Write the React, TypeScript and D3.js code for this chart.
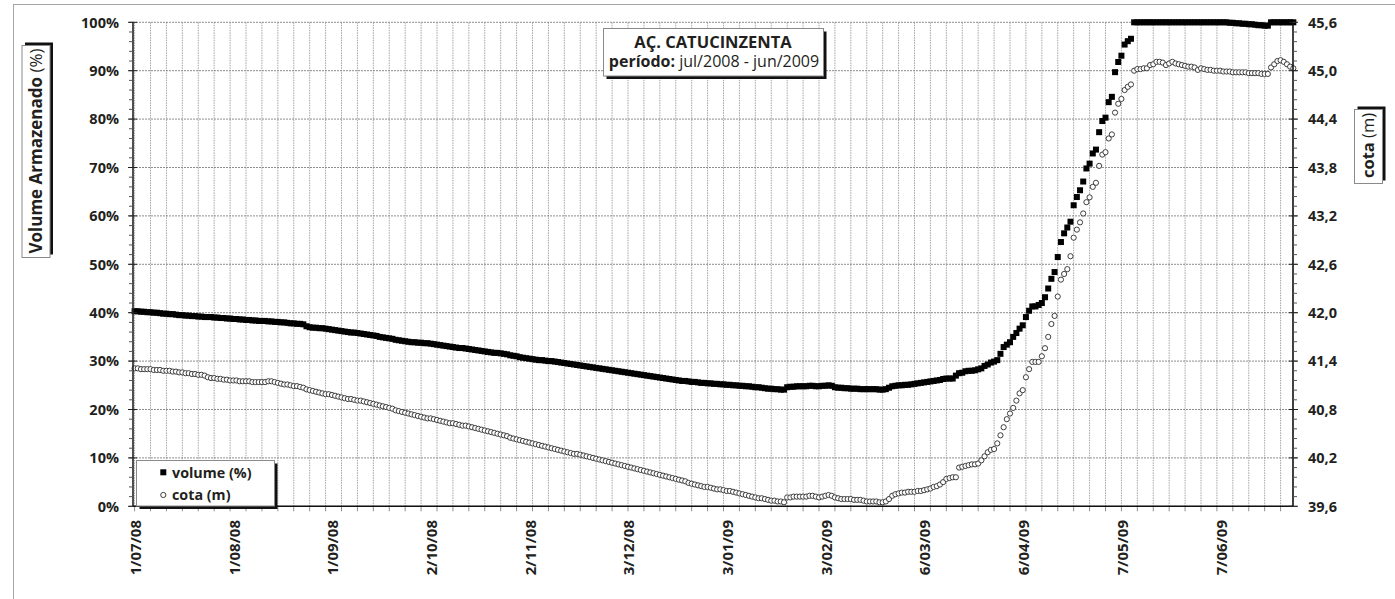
import React from 'react';
import * as d3 from 'd3';

// ---------- DATA ----------
const startLabel = '1/07/08';
const xTickLabels = ['1/07/08', '1/08/08', '1/09/08', '2/10/08', '2/11/08', '3/12/08', '3/01/09', '3/02/09', '6/03/09', '6/04/09', '7/05/09', '7/06/09'];
const leftTickValues = [0, 10, 20, 30, 40, 50, 60, 70, 80, 90, 100];
const rightTickValues = [39.6, 40.2, 40.8, 41.4, 42.0, 42.6, 43.2, 43.8, 44.4, 45.0, 45.6];
const titleLine1 = 'AÇ. CATUCINZENTA';
const titleLine2Bold = 'período:';
const titleLine2 = ' jul/2008 - jun/2009';
const leftAxisTitleBold = 'Volume Armazenado ';
const leftAxisTitleUnit = '(%)';
const rightAxisTitleBold = 'cota ';
const rightAxisTitleUnit = '(m)';
const seriesNames = ['volume (%)', 'cota (m)'];

// daily volume (%) from 1/07/08
const volumePct = [
  40.3, 40.3, 40.2, 40.2, 40.1, 40.1, 40.0, 40.0, 39.9, 39.8,
  39.8, 39.7, 39.7, 39.6, 39.5, 39.5, 39.4, 39.4, 39.3, 39.3,
  39.2, 39.2, 39.1, 39.1, 39.1, 39.0, 39.0, 38.9, 38.9, 38.8,
  38.8, 38.7, 38.7, 38.6, 38.6, 38.5, 38.5, 38.4, 38.4, 38.3,
  38.3, 38.3, 38.2, 38.2, 38.1, 38.1, 38.0, 38.0, 37.9, 37.8,
  37.8, 37.7, 37.7, 37.6, 37.2, 37.0, 36.9, 36.9, 36.8, 36.8,
  36.7, 36.6, 36.5, 36.4, 36.3, 36.2, 36.1, 36.0, 35.9, 35.9,
  35.8, 35.7, 35.6, 35.5, 35.4, 35.3, 35.2, 35.0, 34.9, 34.8,
  34.7, 34.6, 34.4, 34.3, 34.2, 34.1, 34.0, 33.9, 33.9, 33.8,
  33.8, 33.7, 33.7, 33.6, 33.5, 33.4, 33.3, 33.2, 33.1, 33.0,
  32.9, 32.8, 32.7, 32.7, 32.6, 32.5, 32.4, 32.3, 32.2, 32.1,
  32.0, 31.9, 31.8, 31.7, 31.7, 31.6, 31.5, 31.4, 31.2, 31.1,
  31.0, 30.8, 30.7, 30.6, 30.5, 30.4, 30.3, 30.2, 30.2, 30.1,
  30.0, 30.0, 29.9, 29.8, 29.7, 29.6, 29.5, 29.4, 29.3, 29.2,
  29.1, 29.0, 28.9, 28.8, 28.7, 28.6, 28.5, 28.4, 28.3, 28.2,
  28.1, 28.0, 27.9, 27.8, 27.7, 27.6, 27.5, 27.4, 27.3, 27.2,
  27.1, 27.0, 26.9, 26.8, 26.7, 26.6, 26.5, 26.4, 26.3, 26.2,
  26.1, 26.0, 25.9, 25.9, 25.8, 25.7, 25.7, 25.6, 25.5, 25.5,
  25.4, 25.4, 25.3, 25.3, 25.2, 25.2, 25.1, 25.1, 25.0, 25.0,
  24.9, 24.9, 24.8, 24.8, 24.7, 24.6, 24.6, 24.5, 24.4, 24.3,
  24.3, 24.2, 24.2, 24.1, 24.1, 24.6, 24.7, 24.7, 24.8, 24.8,
  24.8, 24.8, 24.9, 24.9, 24.8, 24.8, 24.9, 24.9, 25.0, 24.9,
  24.6, 24.5, 24.5, 24.4, 24.4, 24.3, 24.3, 24.3, 24.2, 24.2,
  24.2, 24.2, 24.2, 24.2, 24.1, 24.1, 24.2, 24.5, 24.8, 24.9,
  25.0, 25.0, 25.1, 25.1, 25.2, 25.3, 25.4, 25.5, 25.6, 25.7,
  25.8, 25.9, 26.0, 26.1, 26.3, 26.4, 26.4, 26.4, 27.0, 27.5,
  27.6, 27.9, 28.0, 28.0, 28.1, 28.3, 28.5, 29.0, 29.3, 29.7,
  29.9, 30.2, 31.5, 32.9, 33.4, 33.9, 35.0, 35.8, 36.7, 37.4,
  39.1, 40.4, 41.3, 41.3, 41.6, 42.0, 43.2, 45.0, 47.0, 48.4,
  51.5, 54.6, 56.4, 57.6, 58.8, 62.2, 63.9, 65.3, 67.1, 69.8,
  70.8, 72.9, 73.7, 77.3, 79.6, 80.3, 83.5, 84.6, 89.7, 91.8,
  93.1, 95.4, 96.1, 96.6, 100, 100, 100, 100, 100, 100,
  100, 100, 100, 100, 100, 100, 100, 100, 100, 100,
  100, 100, 100, 100, 100, 100, 100, 100, 100, 100,
  100, 100, 100, 100, 99.9, 99.9, 99.8, 99.8, 99.7, 99.7,
  99.6, 99.6, 99.5, 99.4, 99.4, 99.3, 99.3, 100, 100, 100,
  100, 100, 100, 100, 100,
];

// daily cota (m) from 1/07/08
const cotaM = [
  41.31, 41.31, 41.30, 41.30, 41.30, 41.30, 41.29, 41.29, 41.29, 41.28,
  41.28, 41.28, 41.27, 41.27, 41.26, 41.26, 41.25, 41.25, 41.24, 41.24,
  41.23, 41.23, 41.22, 41.20, 41.19, 41.19, 41.18, 41.18, 41.17, 41.17,
  41.16, 41.16, 41.16, 41.15, 41.15, 41.15, 41.15, 41.14, 41.14, 41.14,
  41.14, 41.14, 41.15, 41.15, 41.14, 41.13, 41.12, 41.11, 41.11, 41.10,
  41.09, 41.09, 41.08, 41.07, 41.05, 41.04, 41.03, 41.02, 41.01, 41.00,
  40.99, 40.99, 40.98, 40.97, 40.96, 40.95, 40.94, 40.93, 40.93, 40.92,
  40.91, 40.91, 40.90, 40.89, 40.88, 40.87, 40.86, 40.85, 40.84, 40.83,
  40.82, 40.81, 40.79, 40.78, 40.77, 40.76, 40.75, 40.74, 40.73, 40.72,
  40.71, 40.70, 40.69, 40.69, 40.68, 40.67, 40.66, 40.65, 40.64, 40.63,
  40.63, 40.62, 40.61, 40.60, 40.60, 40.59, 40.58, 40.57, 40.56, 40.55,
  40.54, 40.53, 40.52, 40.51, 40.50, 40.49, 40.48, 40.47, 40.45, 40.44,
  40.43, 40.42, 40.41, 40.40, 40.39, 40.38, 40.37, 40.36, 40.35, 40.34,
  40.33, 40.32, 40.31, 40.30, 40.29, 40.28, 40.27, 40.26, 40.25, 40.25,
  40.24, 40.23, 40.22, 40.21, 40.20, 40.19, 40.18, 40.17, 40.16, 40.15,
  40.14, 40.13, 40.12, 40.11, 40.10, 40.09, 40.08, 40.07, 40.06, 40.05,
  40.04, 40.03, 40.02, 40.01, 40.00, 39.99, 39.98, 39.97, 39.96, 39.95,
  39.94, 39.93, 39.92, 39.91, 39.89, 39.88, 39.87, 39.86, 39.85, 39.84,
  39.84, 39.83, 39.82, 39.81, 39.81, 39.80, 39.79, 39.79, 39.78, 39.77,
  39.76, 39.75, 39.74, 39.73, 39.72, 39.71, 39.70, 39.70, 39.69, 39.68,
  39.67, 39.67, 39.66, 39.66, 39.65, 39.71, 39.71, 39.72, 39.72, 39.72,
  39.72, 39.72, 39.73, 39.73, 39.72, 39.71, 39.72, 39.73, 39.74, 39.73,
  39.71, 39.70, 39.69, 39.69, 39.69, 39.69, 39.68, 39.68, 39.68, 39.67,
  39.66, 39.66, 39.66, 39.66, 39.65, 39.65, 39.66, 39.69, 39.73, 39.75,
  39.76, 39.77, 39.77, 39.78, 39.78, 39.78, 39.79, 39.79, 39.80, 39.81,
  39.82, 39.84, 39.85, 39.87, 39.90, 39.94, 39.95, 39.96, 39.96, 40.08,
  40.09, 40.10, 40.11, 40.12, 40.12, 40.13, 40.17, 40.22, 40.27, 40.30,
  40.31, 40.38, 40.48, 40.58, 40.68, 40.75, 40.82, 40.91, 41.00, 41.04,
  41.20, 41.30, 41.39, 41.39, 41.39, 41.46, 41.56, 41.70, 41.86, 41.96,
  42.20, 42.41, 42.48, 42.54, 42.70, 42.93, 43.03, 43.12, 43.23, 43.37,
  43.43, 43.56, 43.61, 43.82, 43.96, 43.99, 44.16, 44.21, 44.48, 44.59,
  44.65, 44.76, 44.80, 44.83, 45.00, 45.02, 45.02, 45.03, 45.03, 45.07,
  45.08, 45.11, 45.11, 45.10, 45.07, 45.09, 45.11, 45.09, 45.08, 45.07,
  45.06, 45.05, 45.05, 45.04, 45.01, 45.03, 45.02, 45.01, 45.01, 45.00,
  45.00, 45.00, 44.99, 44.99, 44.99, 44.98, 44.98, 44.98, 44.98, 44.98,
  44.97, 44.97, 44.97, 44.97, 44.96, 44.96, 44.96, 45.04, 45.08, 45.12,
  45.13, 45.11, 45.08, 45.05, 45.03,
];

// ---------- LAYOUT ----------
const W = 1395;
const H = 599;
const plot = { left: 133, right: 1293, top: 22.3, bottom: 506.3 };
const FONT = "'Open Sans', 'Noto Sans', sans-serif";
const INK = '#231f20';

function ShadowBox({ x, y, w, h, dx, dy }: { x: number; y: number; w: number; h: number; dx: number; dy: number }) {
  return (
    <g>
      <rect x={x + dx} y={y + dy} width={w} height={h} fill="#111" />
      <rect x={x} y={y} width={w} height={h} fill="#fff" stroke="#8a8a8a" strokeWidth={1} />
    </g>
  );
}

export default function App() {
  const parse = d3.timeParse('%d/%m/%y');
  const start = parse(startLabel) as Date;
  const nDays = volumePct.length;

  const x = d3.scaleLinear().domain([-0.5, nDays - 1.1]).range([plot.left, plot.right]);
  const yL = d3.scaleLinear().domain([0, 100]).range([plot.bottom, plot.top]);
  const yR = d3.scaleLinear().domain([rightTickValues[0], rightTickValues[rightTickValues.length - 1]]).range([plot.bottom, plot.top]);

  const ptBR = d3.formatLocale({ decimal: ',', thousands: '.', grouping: [3], currency: ['', ''] });
  const fmtR = ptBR.format('.1f');

  const gridDays = d3.range(0, nDays, 5);
  const leftMinor = d3.range(0, 100.001, 2);
  const rightStep = (rightTickValues[1] - rightTickValues[0]) / 5;
  const rightMinor = d3.range(0, 51).map((i) => rightTickValues[0] + i * rightStep);

  const xTicks = xTickLabels.map((lab) => ({ lab, d: d3.timeDay.count(start, parse(lab) as Date) }));

  const sq = 6;
  const cr = 2.6;

  return (
    <svg width={W} height={H} style={{ position: 'absolute', left: 0, top: 0, background: '#fff' }} fontFamily={FONT}>
      <rect x={0} y={0} width={W} height={H} fill="#fff" />
      {/* chart area border */}
      <rect x={13.5} y={4.5} width={W + 20} height={H + 20} fill="none" stroke="#a6a6a6" strokeWidth={1} />

      {/* vertical gridlines + bottom ticks */}
      {gridDays.map((d) => (
        <g key={'g' + d}>
          <line x1={x(d)} x2={x(d)} y1={plot.top} y2={plot.bottom} stroke="#9a9a9a" strokeWidth={0.9} strokeDasharray="1.5 1" />
          <line x1={x(d)} x2={x(d)} y1={plot.bottom} y2={plot.bottom + 5} stroke="#8f8f8f" strokeWidth={1} />
        </g>
      ))}
      {/* horizontal gridlines */}
      {leftTickValues.map((v) => (
        <line key={'h' + v} x1={plot.left} x2={plot.right} y1={yL(v)} y2={yL(v)} stroke="#808080" strokeWidth={0.9} strokeDasharray="2 1" />
      ))}

      {/* volume series */}
      {volumePct.map((v, i) => (
        <rect key={'v' + i} x={x(i) - sq / 2} y={yL(v) - sq / 2} width={sq} height={sq} fill="#000" />
      ))}
      {/* cota series */}
      {cotaM.map((v, i) => (
        <circle key={'c' + i} cx={x(i)} cy={yR(v)} r={cr} fill="#fff" stroke="#2a2a2a" strokeWidth={0.9} />
      ))}

      {/* axes */}
      <line x1={plot.left} x2={plot.left} y1={plot.top} y2={plot.bottom} stroke="#222" strokeWidth={1.6} />
      <line x1={plot.right} x2={plot.right} y1={plot.top} y2={plot.bottom} stroke="#111" strokeWidth={1.6} />
      <line x1={plot.left} x2={plot.right} y1={plot.bottom} y2={plot.bottom} stroke="#111" strokeWidth={1.6} />

      {leftMinor.map((v) => (
        <line key={'lm' + v} x1={plot.left - 4} x2={plot.left} y1={yL(v)} y2={yL(v)} stroke="#555" strokeWidth={1} />
      ))}
      {leftTickValues.map((v) => (
        <g key={'lt' + v}>
          <line x1={plot.left - 5} x2={plot.left + 4} y1={yL(v)} y2={yL(v)} stroke="#222" strokeWidth={1} />
          <text x={119} y={yL(v)} dy="0.36em" textAnchor="end" fontSize={14.5} fontWeight={700} fill={INK}>
            {v + '%'}
          </text>
        </g>
      ))}
      {rightMinor.map((v, i) => (
        <line key={'rm' + i} x1={plot.right} x2={plot.right + 4} y1={yR(v)} y2={yR(v)} stroke="#555" strokeWidth={1} />
      ))}
      {rightTickValues.map((v) => (
        <g key={'rt' + v}>
          <line x1={plot.right - 4} x2={plot.right + 5} y1={yR(v)} y2={yR(v)} stroke="#222" strokeWidth={1} />
          <text x={1308} y={yR(v)} dy="0.36em" textAnchor="start" fontSize={14.5} fontWeight={700} fill={INK}>
            {fmtR(v)}
          </text>
        </g>
      ))}
      {xTicks.map((t) => (
        <text key={'xt' + t.lab} transform={`translate(${x(t.d) + 1},520) rotate(-90)`} dy="0.36em" textAnchor="end" fontSize={15} fontWeight={700} fill={INK}>
          {t.lab}
        </text>
      ))}

      {/* left axis title */}
      <ShadowBox x={22} y={45.5} w={28} h={212} dx={3} dy={-3} />
      <text transform="translate(36,151) rotate(-90)" dy="0.36em" textAnchor="middle" fontSize={17} fill={INK}>
        <tspan fontWeight={700}>{leftAxisTitleBold}</tspan>
        <tspan fontWeight={400}>{leftAxisTitleUnit}</tspan>
      </text>

      {/* right axis title */}
      <ShadowBox x={1354.5} y={109.5} w={28} h={74} dx={3} dy={-3} />
      <text transform="translate(1368.5,145.5) rotate(-90)" dy="0.36em" textAnchor="middle" fontSize={16.5} fill={INK}>
        <tspan fontWeight={700}>{rightAxisTitleBold}</tspan>
        <tspan fontWeight={400}>{rightAxisTitleUnit}</tspan>
      </text>

      {/* chart title */}
      <ShadowBox x={603.5} y={28.5} w={220} h={47.5} dx={3} dy={3} />
      <text x={713} y={47.5} textAnchor="middle" fontSize={16.5} fontWeight={700} fill={INK}>
        {titleLine1}
      </text>
      <text x={714} y={67} textAnchor="middle" fontSize={16} fill={INK}>
        <tspan fontWeight={700}>{titleLine2Bold}</tspan>
        <tspan fontWeight={400}>{titleLine2}</tspan>
      </text>

      {/* legend */}
      <ShadowBox x={136.5} y={460.5} w={138} h={45.5} dx={3} dy={3} />
      <rect x={163.3 - sq / 2} y={472.3 - sq / 2} width={sq} height={sq} fill="#000" />
      <text x={172} y={477.5} fontSize={14.3} fontWeight={700} fill={INK}>
        {seriesNames[0]}
      </text>
      <circle cx={163.3} cy={495} r={cr} fill="#fff" stroke="#2a2a2a" strokeWidth={0.9} />
      <text x={172} y={500} fontSize={14.3} fontWeight={700} fill={INK}>
        {seriesNames[1]}
      </text>
    </svg>
  );
}
